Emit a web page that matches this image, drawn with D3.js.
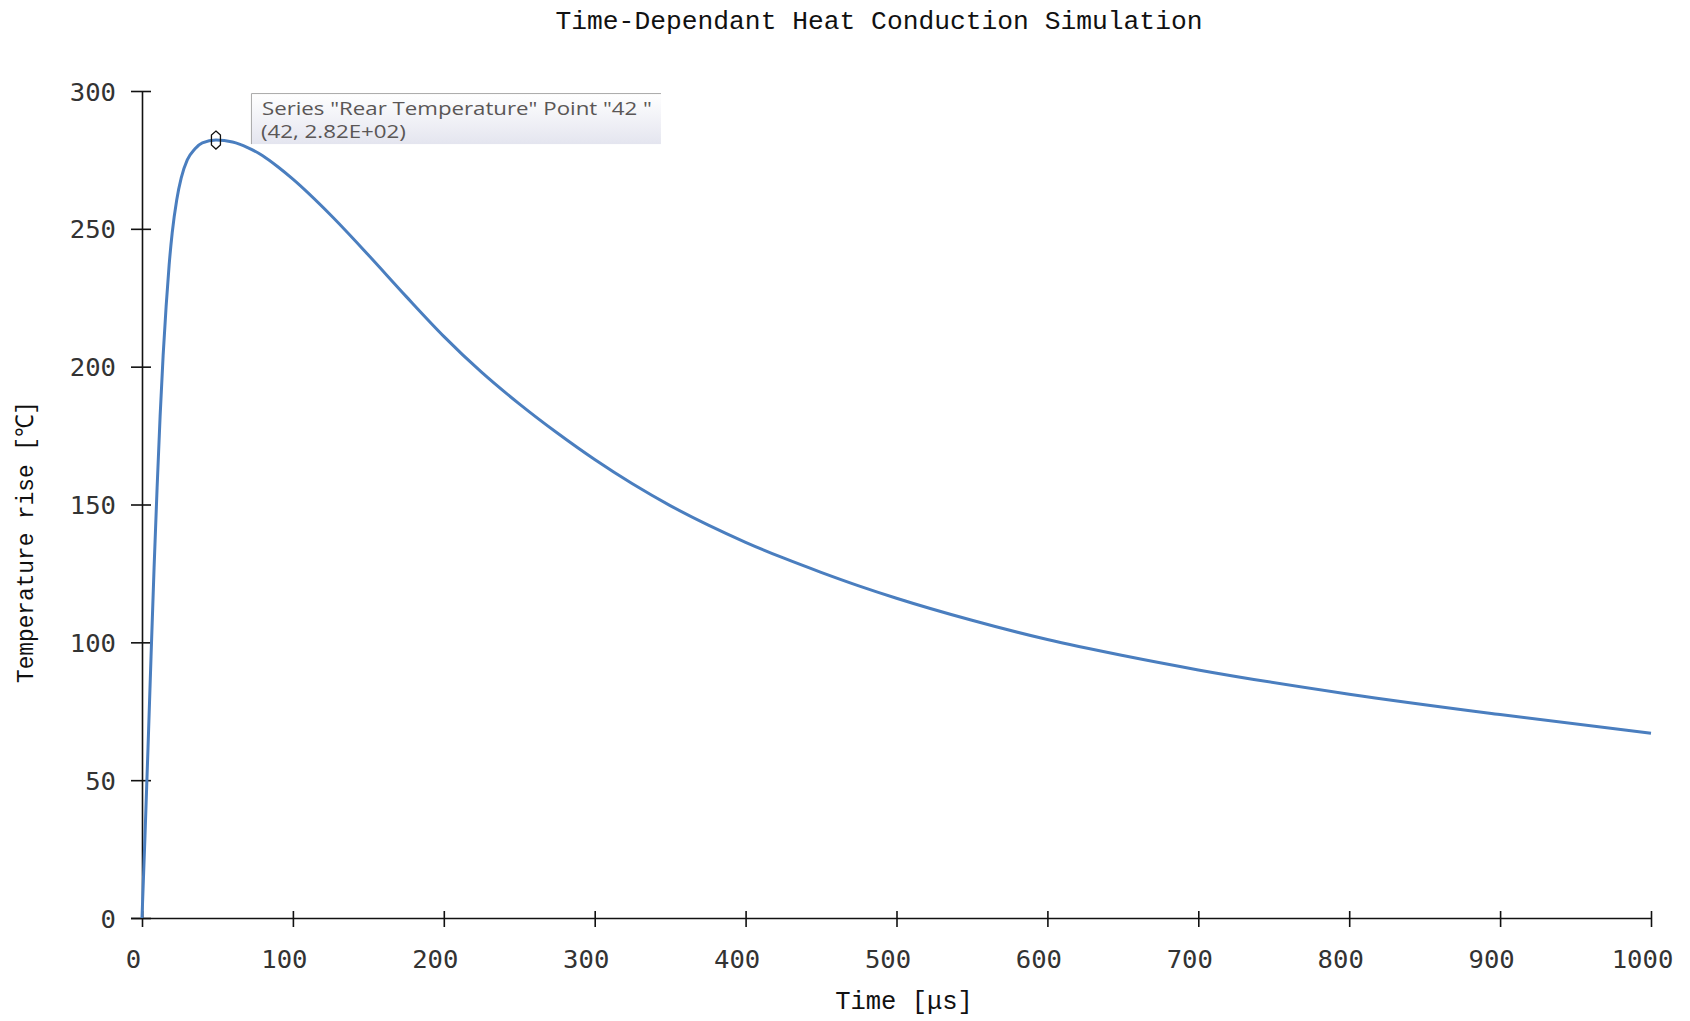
<!DOCTYPE html>
<html>
<head>
<meta charset="utf-8">
<script src="https://d3js.org/d3.v7.min.js"></script>
<style>
  body { margin: 0; background: #fff; }
  svg { display: block; }
</style>
</head>
<body>
<svg></svg>
<script>
// time [µs] and temperature rise [°C]
const timeUs = [0, 2, 4, 6, 8, 10, 12, 14, 16, 18, 20, 23, 26, 30, 35, 40, 49, 60, 70, 80, 90, 100, 125, 150, 175, 200, 225, 250, 275, 300, 325, 350, 375, 400, 425, 450, 475, 500, 550, 600, 650, 700, 800, 900, 1000];
const tempRise = [0, 30, 62, 95, 127, 156, 182, 204, 222, 237, 248.5, 260.5, 268.5, 275, 279, 281.2, 282.2, 281.5, 279.5, 276.5, 272.5, 268, 255, 240.5, 225.5, 211, 198, 186.5, 176, 166.3, 157.5, 149.6, 142.6, 136.3, 130.6, 125.4, 120.5, 116, 108, 101, 95.2, 90, 81.2, 73.8, 67];

const xTicks = [0, 100, 200, 300, 400, 500, 600, 700, 800, 900, 1000];
const yTicks = [0, 50, 100, 150, 200, 250, 300];

const chartTitle = "Time-Dependant Heat Conduction Simulation";
const xTitle = "Time [\u03bcs]";
const yTitle = "Temperature rise [\u2103]";
const tipLine1 = 'Series "Rear Temperature" Point "42 "';
const tipLine2 = "(42, 2.82E+02)";

const width = 1690;
const height = 1021;
const mono = "'Liberation Mono', 'DejaVu Sans Mono', monospace";

const svg = d3.select("svg").attr("width", width).attr("height", height);

const x = d3.scaleLinear().domain([0, 1000]).range([142, 1651]);
const y = d3.scaleLinear().domain([0, 300]).range([918, 91]);

const data = timeUs.map((t, i) => ({ t: t, v: tempRise[i] }));

// title
svg.append("text")
  .attr("x", 879)
  .attr("y", 22)
  .attr("text-anchor", "middle")
  .attr("dominant-baseline", "central")
  .attr("font-family", mono)
  .attr("font-size", 26.3)
  .attr("fill", "#111")
  .text(chartTitle);

// axes
const xAxis = svg.append("g")
  .attr("transform", `translate(0, ${y(0)})`)
  .call(d3.axisBottom(x).tickValues(xTicks).tickSizeOuter(0).tickFormat(d3.format("d")));

const yAxis = svg.append("g")
  .attr("transform", `translate(${x(0)}, 0)`)
  .call(d3.axisLeft(y).tickValues(yTicks).tickSizeOuter(0).tickFormat(d3.format("d")));

[xAxis, yAxis].forEach((g) => {
  g.select(".domain").attr("stroke", "#111").attr("stroke-width", 1.6);
  g.selectAll(".tick line").attr("stroke", "#111").attr("stroke-width", 1.6);
  g.selectAll(".tick text")
    .attr("font-family", "'DejaVu Sans Mono', monospace")
    .attr("font-size", 25.6)
    .attr("fill", "#333");
});

// ticks cross the axis line
xAxis.selectAll(".tick line").attr("y1", -7).attr("y2", 9);
xAxis.selectAll(".tick text").attr("y", 41).attr("dy", 0).attr("dominant-baseline", "central").attr("dx", -9);
xAxis.select(".domain").attr("d", `M131,0.5H${x(1000)}`);

yAxis.selectAll(".tick line").attr("x1", -11).attr("x2", 9);
yAxis.selectAll(".tick text").attr("x", -26).attr("dy", 0).attr("dominant-baseline", "central");

// axis titles
svg.append("text")
  .attr("x", 904)
  .attr("y", 1002)
  .attr("text-anchor", "middle")
  .attr("dominant-baseline", "central")
  .attr("font-family", mono)
  .attr("font-size", 25.5)
  .attr("fill", "#111")
  .text(xTitle);

svg.append("text")
  .attr("transform", "translate(26, 542) rotate(-90)")
  .attr("text-anchor", "middle")
  .attr("dominant-baseline", "central")
  .attr("font-family", mono)
  .attr("font-size", 24.5)
  .attr("fill", "#111")
  .attr("textLength", 282)
  .attr("lengthAdjust", "spacingAndGlyphs")
  .text(yTitle);

// curve
const line = d3.line()
  .x((d) => x(d.t))
  .y((d) => y(d.v))
  .curve(d3.curveMonotoneX);

svg.append("path")
  .datum(data)
  .attr("fill", "none")
  .attr("stroke", "#4a7ebf")
  .attr("stroke-width", 3)
  .attr("stroke-linejoin", "round")
  .attr("d", line);

// highlighted point at the peak
const peak = data[d3.maxIndex(data, (d) => d.v)];
const px = x(peak.t);
const py = y(peak.v);

svg.append("path")
  .attr("transform", `translate(${px}, ${py})`)
  .attr("d", "M0,-9L4.5,-5L4.5,5L0,9L-4.5,5L-4.5,-5Z")
  .attr("fill", "none")
  .attr("stroke", "#111")
  .attr("stroke-width", 1.3);

// tooltip
const defs = svg.append("defs");
const grad = defs.append("linearGradient")
  .attr("id", "tipGrad")
  .attr("x1", 0).attr("y1", 0).attr("x2", 0).attr("y2", 1);
grad.append("stop").attr("offset", "0%").attr("stop-color", "#ffffff");
grad.append("stop").attr("offset", "100%").attr("stop-color", "#e4e5ef");

const tip = svg.append("g").attr("transform", `translate(${px + 35}, ${py - 47})`);
tip.append("rect")
  .attr("width", 410)
  .attr("height", 51)
  .attr("fill", "url(#tipGrad)");
tip.append("path")
  .attr("d", "M0.5,51V0.5H410")
  .attr("fill", "none")
  .attr("stroke", "#a8a8a8")
  .attr("stroke-width", 1);

const tipFont = "'Open Sans', 'Noto Sans', sans-serif";
tip.append("text")
  .attr("x", 11)
  .attr("y", 22)
  .attr("font-family", tipFont)
  .attr("font-size", 19)
  .attr("fill", "#5a5656")
  .attr("textLength", 390)
  .attr("lengthAdjust", "spacingAndGlyphs")
  .text(tipLine1);

tip.append("text")
  .attr("x", 10)
  .attr("y", 45)
  .attr("font-family", tipFont)
  .attr("font-size", 19)
  .attr("fill", "#5a5656")
  .attr("textLength", 145)
  .attr("lengthAdjust", "spacingAndGlyphs")
  .text(tipLine2);
</script>
</body>
</html>
